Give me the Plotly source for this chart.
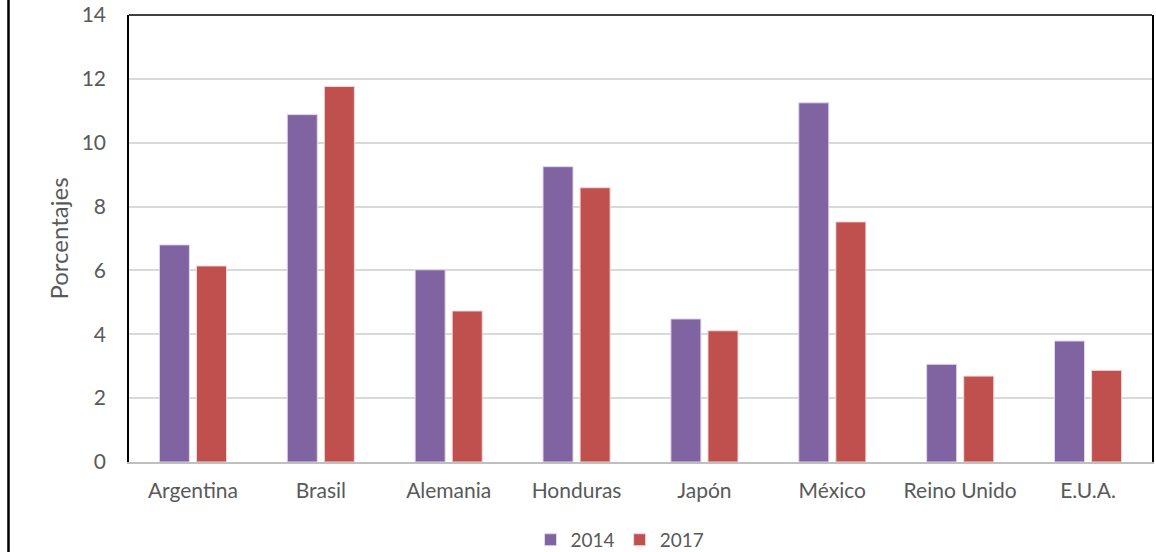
import plotly.graph_objects as go

categories = ["Argentina", "Brasil", "Alemania", "Honduras", "Japón", "México", "Reino Unido", "E.U.A."]
values_2014 = [6.80, 10.88, 6.02, 9.25, 4.48, 11.25, 3.06, 3.79]
values_2017 = [6.14, 11.76, 4.73, 8.59, 4.11, 7.52, 2.69, 2.87]
y_ticks = [0, 2, 4, 6, 8, 10, 12, 14]

FONT = "Lato"
GRAY = "#595959"

fig = go.Figure()
fig.add_trace(go.Bar(name="2014", x=categories, y=values_2014,
                     marker=dict(color="#8064A2", line=dict(color="#E0D8EC", width=1))))
fig.add_trace(go.Bar(name="2017", x=categories, y=values_2017,
                     marker=dict(color="#C0504D", line=dict(color="#F0D8D8", width=1))))

fig.update_layout(
    width=1156, height=552,
    margin=dict(l=129, r=4, t=15, b=90, autoexpand=False),
    paper_bgcolor="white", plot_bgcolor="white",
    barmode="group", bargap=0.42, bargroupgap=0.19,
    font=dict(family=FONT, color=GRAY, size=21),
    showlegend=True,
    legend=dict(orientation="h", x=0.48, xanchor="center", xref="paper",
                y=0.022, yanchor="middle", yref="container",
                font=dict(size=19, color=GRAY), itemwidth=30, traceorder="normal",
                tracegroupgap=0),
    xaxis=dict(showline=True, linecolor="#BFBFBF", linewidth=2, showgrid=False,
               ticks="", ticklabelstandoff=9, tickfont=dict(size=21, color=GRAY)),
    yaxis=dict(range=[0, 14], tickvals=y_ticks, showgrid=True, gridcolor="#D9D9D9",
               gridwidth=1.5, zeroline=False, showline=True, linecolor="black",
               linewidth=1.5, mirror=True, ticks="", ticklabelstandoff=17,
               tickfont=dict(size=21, color=GRAY),
               title=dict(text="Porcentajes", font=dict(size=24, color=GRAY), standoff=6)),
)

# top border of plot area
fig.add_shape(type="line", xref="paper", yref="paper", x0=0, x1=1, y0=1, y1=1,
              line=dict(color="black", width=1.5))
# outer chart border (left edge visible)
fig.add_shape(type="line", xref="paper", yref="paper", x0=-0.1178, x1=-0.1178,
              y0=-0.21, y1=1.04, line=dict(color="black", width=2.5))

fig.write_html("out.html")
